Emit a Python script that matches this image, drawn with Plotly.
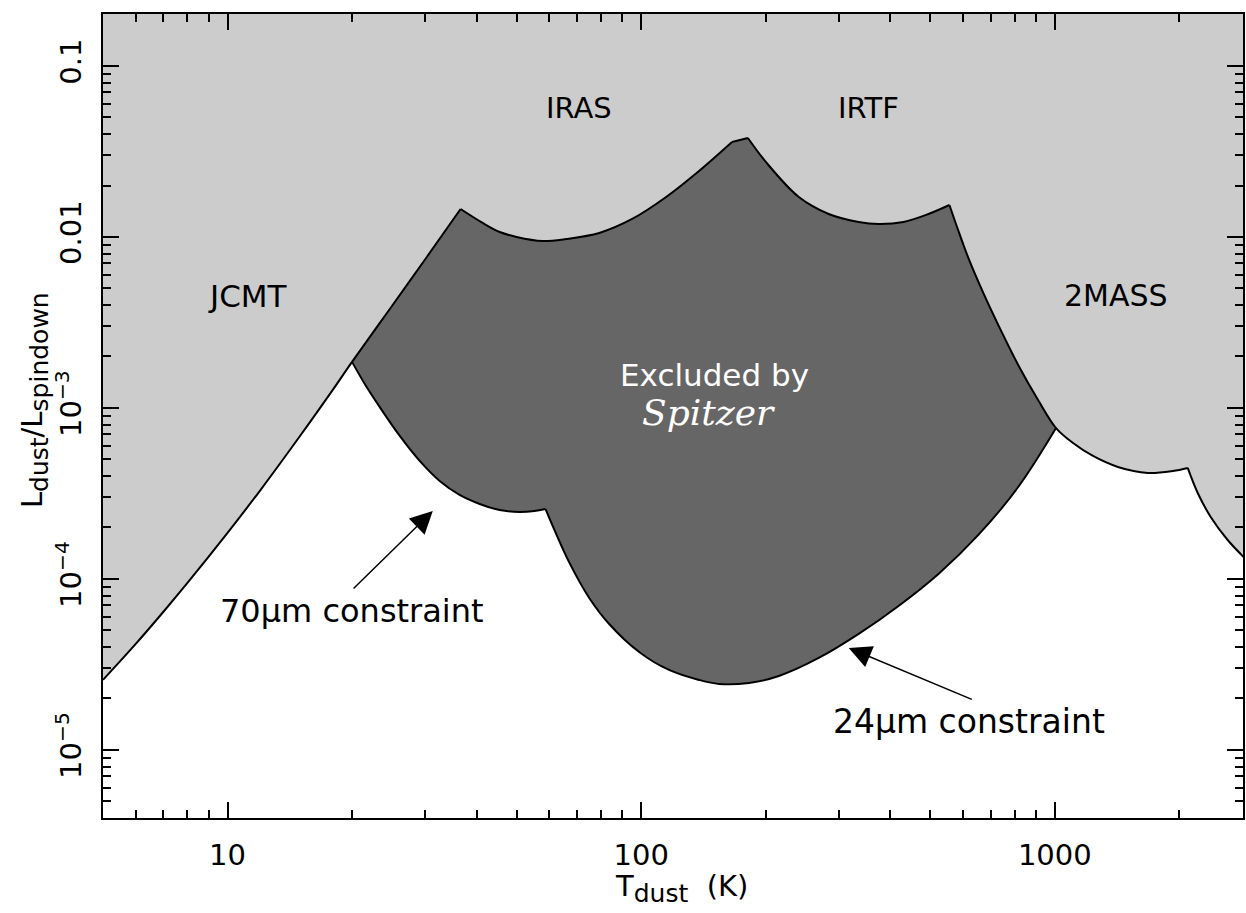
import numpy as np
import plotly.graph_objects as go

# ---------------- data ----------------
# Pre-Spitzer limits (upper envelope), by instrument segment
jcmt_T = [5.0, 6.0, 7.0, 8.0, 10.0, 12.0, 15.0, 18.0, 20.0, 25.0, 30.0, 36.6]
jcmt_L = [2.57e-5, 4.17e-5, 6.43e-5, 9.48e-5, 1.86e-4, 3.30e-4, 6.90e-4,
          1.285e-3, 1.86e-3, 3.96e-3, 7.36e-3, 1.458e-2]

iras_T = [36.6, 41.4, 45.5, 50.0, 57.7, 65.9, 79.2, 95.1, 114.9, 138.0, 165.8, 181.2]
iras_L = [1.458e-2, 1.208e-2, 1.069e-2, 1.0e-2, 9.47e-3, 9.73e-3, 1.055e-2,
          1.274e-2, 1.713e-2, 2.432e-2, 3.594e-2, 3.79e-2]

irtf_T = [181.2, 200.2, 240.5, 284.0, 335.6, 375.0, 430.8, 495.1, 556.3]
irtf_L = [3.79e-2, 2.746e-2, 1.713e-2, 1.363e-2, 1.224e-2, 1.191e-2, 1.224e-2,
          1.363e-2, 1.538e-2]

mass_T = [556.3, 578.1, 618.0, 671.6, 730.0, 815.6, 911.3, 1007.0, 1107.0, 1237.0,
          1421.0, 1679.0, 1929.0, 2096.0, 2216.0, 2382.0, 2618.0, 2861.0]
mass_L = [1.538e-2, 1.175e-2, 7.54e-3, 4.706e-3, 3.058e-3, 1.785e-3, 1.114e-3,
          7.63e-4, 6.24e-4, 5.24e-4, 4.52e-4, 4.17e-4, 4.28e-4, 4.46e-4, 3.18e-4,
          2.305e-4, 1.69e-4, 1.345e-4]

# Spitzer limits
sp70_T = [20.0, 21.47, 23.33, 26.09, 29.15, 32.58, 36.4, 40.7, 45.5, 50.8, 55.2, 58.7]
sp70_L = [1.86e-3, 1.381e-3, 1.013e-3, 6.86e-4, 4.90e-4, 3.74e-4, 3.10e-4, 2.745e-4,
          2.532e-4, 2.465e-4, 2.498e-4, 2.567e-4]

sp24_T = [58.7, 61.7, 67.1, 74.9, 83.7, 98.9, 116.8, 138.0, 154.2, 182.2, 215.2,
          268.7, 335.6, 419.0, 523.2, 653.4, 815.6, 1007.0]
sp24_L = [2.567e-4, 1.934e-4, 1.241e-4, 7.74e-5, 5.45e-5, 3.74e-5, 2.936e-5,
          2.567e-5, 2.432e-5, 2.465e-5, 2.708e-5, 3.45e-5, 4.77e-5, 6.95e-5,
          1.07e-4, 1.809e-4, 3.45e-4, 7.63e-4]

# temperatures where the curves have corners
other_kinks = [36.6, 165.8, 181.2, 556.3, 2096.0]
sp_kinks = [58.7]

x_tickvals = [10, 100, 1000]
x_ticktext = ["10", "100", "1000"]
y_tickvals = [1e-5, 1e-4, 1e-3, 1e-2, 1e-1]
y_ticktext = ["10<sup>\u22125</sup>", "10<sup>\u22124</sup>", "10<sup>\u22123</sup>", "0.01", "0.1"]

X_RANGE = [np.log10(5.0), 3.455]
Y_RANGE = [-5.398, -0.696]

# ---------------- build curves ----------------
other_T = jcmt_T + iras_T[1:] + irtf_T[1:] + mass_T[1:]
other_L = jcmt_L + iras_L[1:] + irtf_L[1:] + mass_L[1:]
sp_T = sp70_T + sp24_T[1:]
sp_L = sp70_L + sp24_L[1:]

oT = np.array(other_T)
oL = np.array(other_L)
m = (oT >= sp_T[0]) & (oT <= sp_T[-1])

top = 10 ** (Y_RANGE[1] + 0.5)

fig = go.Figure()
# light grey: excluded by earlier surveys
fig.add_trace(go.Scatter(
    x=other_T + [other_T[-1], other_T[0]], y=other_L + [top, top],
    mode="lines", fill="toself", fillcolor="#cccccc",
    line=dict(width=0, color="#cccccc"), hoverinfo="skip"))
# dark grey: excluded by Spitzer
fig.add_trace(go.Scatter(
    x=list(oT[m]) + sp_T[::-1], y=list(oL[m]) + sp_L[::-1],
    mode="lines", fill="toself", fillcolor="#666666",
    line=dict(width=0, color="#666666"), hoverinfo="skip"))


def pieces(T, L, kinks):
    out, cur_T, cur_L = [], [], []
    for t, l in zip(T, L):
        cur_T.append(t)
        cur_L.append(l)
        if t in kinks:
            out.append((cur_T, cur_L))
            cur_T, cur_L = [t], [l]
    if len(cur_T) > 1:
        out.append((cur_T, cur_L))
    return out


for T, L in pieces(other_T, other_L, other_kinks) + pieces(sp_T, sp_L, sp_kinks):
    fig.add_trace(go.Scatter(x=T, y=L, mode="lines",
                             line=dict(color="black", width=2, shape="spline", smoothing=1),
                             hoverinfo="skip"))

FONT = "DejaVu Sans"


def lab(T, L, text, color="black", size=29, family=FONT):
    fig.add_annotation(x=np.log10(T), y=np.log10(L), xref="x", yref="y",
                       text=text, showarrow=False,
                       font=dict(family=family, size=size, color=color),
                       xanchor="center", yanchor="middle")


lab(11.2, 4.52e-3, "JCMT", size=31)
lab(70.9, 0.0568, "IRAS")
lab(354.6, 0.0568, "IRTF")
lab(1405, 4.52e-3, "2MASS", size=30)
lab(150.8, 1.56e-3, "Excluded by", color="white", size=31)
lab(145.1, 9.35e-4, "<i>Spitzer</i>", color="white", size=36, family="DejaVu Serif")
lab(20.0, 6.50e-5, "70\u03bcm constraint", size=32)
lab(621.6, 1.458e-5, "24\u03bcm constraint", size=33)


def arrow(T_head, L_head, T_tail, L_tail):
    fig.add_annotation(x=np.log10(T_head), y=np.log10(L_head), xref="x", yref="y",
                       ax=np.log10(T_tail), ay=np.log10(L_tail), axref="x", ayref="y",
                       text="", showarrow=True, arrowhead=2, arrowsize=3,
                       arrowwidth=1.5, arrowcolor="black")


arrow(31.35, 2.50e-4, 20.0, 8.63e-5)
arrow(317.6, 3.95e-5, 635.3, 1.96e-5)

# axis titles
fig.add_annotation(xref="paper", yref="paper", x=(683 - 103) / 1142, y=(818 - 888) / 804,
                   text="T<sub><span style='font-size:25px'>dust</span></sub>  (K)",
                   showarrow=False,
                   font=dict(family=FONT, size=29), xanchor="center", yanchor="middle")
fig.add_annotation(xref="paper", yref="paper", x=(34 - 103) / 1142, y=(818 - 400) / 804,
                   text="L<sub><span style='font-size:25px'>dust</span></sub>/L"
                        "<sub><span style='font-size:25px'>spindown</span></sub>",
                   showarrow=False, textangle=-90,
                   font=dict(family=FONT, size=29), xanchor="center", yanchor="middle")

x_minor = [d * 10 ** e for e in range(0, 4) for d in range(2, 10)
           if X_RANGE[0] <= np.log10(d * 10 ** e) <= X_RANGE[1]]
y_minor = [d * 10.0 ** e for e in range(-6, 0) for d in range(2, 10)
           if Y_RANGE[0] <= np.log10(d * 10.0 ** e) <= Y_RANGE[1]]

common = dict(showline=True, linewidth=2, linecolor="black", mirror="ticks",
              ticks="inside", ticklen=16, tickwidth=2, tickcolor="black",
              showgrid=False, zeroline=False, tickfont=dict(family=FONT, size=29))
fig.update_xaxes(type="log", range=X_RANGE, tickmode="array", tickvals=x_tickvals,
                 ticktext=x_ticktext, ticklabelstandoff=10,
                 minor=dict(tickmode="array", tickvals=x_minor, ticks="inside",
                            ticklen=8, tickwidth=1.5, tickcolor="black", showgrid=False),
                 **common)
fig.update_yaxes(type="log", range=Y_RANGE, tickmode="array", tickvals=y_tickvals,
                 ticktext=y_ticktext, tickangle=-90, ticklabelstandoff=8,
                 minor=dict(tickmode="array", tickvals=y_minor, ticks="inside",
                            ticklen=8, tickwidth=1.5, tickcolor="black", showgrid=False),
                 **common)

fig.update_layout(width=1246, height=913, margin=dict(l=103, r=1, t=14, b=95),
                  plot_bgcolor="white", paper_bgcolor="white", showlegend=False,
                  font=dict(family=FONT, size=29, color="black"))

fig.write_html("out.html")
